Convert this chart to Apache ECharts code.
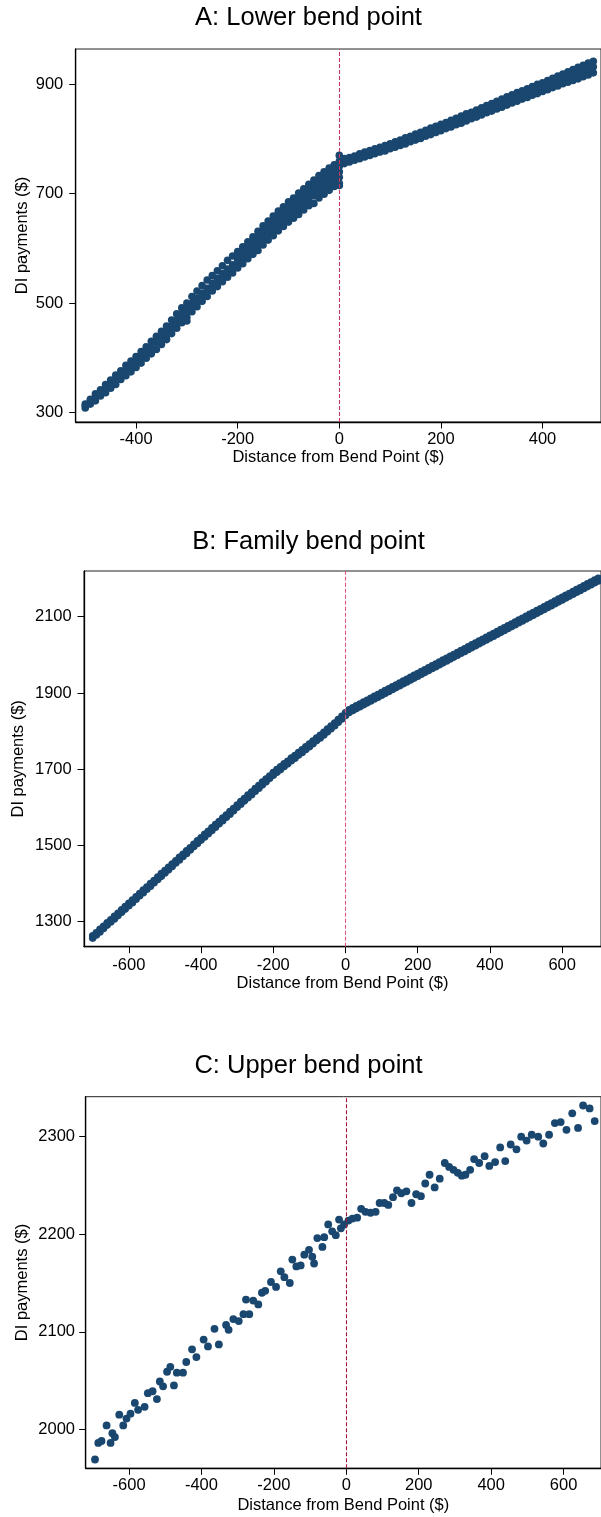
<!DOCTYPE html>
<html>
<head>
<meta charset="utf-8">
<script src="https://cdn.jsdelivr.net/npm/echarts@6/dist/echarts.min.js"></script>
<style>
  html, body { margin: 0; padding: 0; background: #fff; }
  #chart { width: 601px; height: 1517px; }
</style>
</head>
<body>
<div id="chart"></div>
<script>
// Panel titles and axis text
const panelTitles = ['A: Lower bend point', 'B: Family bend point', 'C: Upper bend point'];
const xAxisTitle = 'Distance from Bend Point ($)';
const yAxisTitle = 'DI payments ($)';

// Tick values
const xTicksA = [-400, -200, 0, 200, 400];
const yTicksA = [300, 500, 700, 900];
const xTicksB = [-600, -400, -200, 0, 200, 400, 600];
const yTicksB = [1300, 1500, 1700, 1900, 2100];
const xTicksC = [-600, -400, -200, 0, 200, 400, 600];
const yTicksC = [2000, 2100, 2200, 2300];

// Panel A: lower bend point. Each row: [distance, payment, payment, ...]
const lowerRows = [
  [-500, 308, 312, 315], [-490, 315, 320, 324], [-480, 321, 328, 334], [-470, 330, 336, 341],
  [-460, 336, 344, 351], [-450, 344, 352, 359], [-440, 351, 360, 368], [-430, 360, 368, 376],
  [-420, 367, 377, 386], [-410, 374, 384, 394], [-400, 382, 393, 402], [-390, 390, 401, 411],
  [-380, 399, 411, 420], [-370, 407, 419, 430], [-360, 415, 428, 439],
  [-350, 424, 437, 448, 431], [-340, 433, 447, 458, 440], [-330, 444, 458, 469, 451],
  [-320, 454, 468, 480, 461], [-310, 464, 479, 491, 472], [-300, 474, 489, 500, 482, 467],
  [-290, 484, 499, 512, 492], [-280, 493, 509, 522, 501], [-270, 503, 518, 532, 511],
  [-260, 512, 527, 542, 520], [-250, 522, 536, 550, 529], [-240, 530, 545, 559, 538],
  [-230, 539, 554, 568, 546], [-220, 547, 562, 578, 555], [-210, 555, 570, 586, 563],
  [-200, 564, 579, 594, 572, 587], [-190, 572, 588, 603, 581, 596], [-180, 581, 597, 612, 590, 605],
  [-170, 589, 606, 621, 598, 614], [-160, 596, 615, 631, 607, 623], [-150, 606, 624, 641, 616, 633],
  [-140, 615, 633, 650, 625, 642], [-130, 623, 641, 659, 633, 651], [-120, 632, 650, 668, 641, 660],
  [-110, 640, 658, 676, 649, 668], [-100, 648, 666, 685, 657, 676], [-90, 655, 674, 692, 665, 684],
  [-80, 662, 682, 701, 672, 692], [-70, 670, 690, 709, 680, 700], [-60, 678, 698, 717, 688, 708],
  [-50, 682, 706, 725, 696, 716], [-40, 692, 713, 733, 703, 723], [-30, 699, 720, 740, 710, 731],
  [-20, 706, 727, 747, 717, 738], [-10, 713, 734, 753, 724, 744], [0, 719, 740, 759, 730, 750, 770, 715],
  [10, 755, 759, 764], [20, 758, 762, 766], [30, 761, 765, 769], [40, 764, 768, 773],
  [50, 767, 771, 776], [60, 770, 774, 779], [70, 773, 777, 782], [80, 776, 780, 785],
  [90, 778, 783, 788], [100, 782, 786, 791], [110, 785, 789, 795], [120, 788, 793, 798],
  [130, 791, 796, 802], [140, 795, 800, 805], [150, 798, 803, 809], [160, 801, 807, 812],
  [170, 805, 810, 816], [180, 808, 814, 820], [190, 812, 817, 823], [200, 815, 821, 827],
  [210, 819, 825, 830], [220, 822, 828, 834], [230, 826, 832, 838], [240, 829, 836, 842],
  [250, 833, 839, 846], [260, 837, 843, 849], [270, 840, 847, 853], [280, 844, 851, 857],
  [290, 848, 855, 861], [300, 851, 858, 865], [310, 855, 862, 869], [320, 858, 866, 873],
  [330, 862, 870, 877], [340, 866, 873, 881], [350, 869, 877, 885], [360, 873, 880, 888],
  [370, 876, 884, 892], [380, 880, 888, 896], [390, 883, 891, 900], [400, 887, 895, 903],
  [410, 890, 899, 907], [420, 894, 902, 911], [430, 897, 906, 915], [440, 901, 910, 919],
  [450, 904, 914, 923], [460, 907, 917, 927], [470, 910, 921, 931], [480, 914, 925, 935],
  [490, 917, 929, 939], [500, 921, 932, 942]
];

// Panel B: family bend point. Each row: [distance, payment, payment]
const familyRows = [
  [-700, 1257, 1263], [-690, 1265, 1271], [-680, 1273, 1280], [-670, 1282, 1288], [-660, 1291, 1297],
  [-650, 1299, 1305], [-640, 1307, 1314], [-630, 1316, 1322], [-620, 1325, 1331], [-610, 1333, 1340],
  [-600, 1342, 1348], [-590, 1350, 1357], [-580, 1359, 1365], [-570, 1368, 1374], [-560, 1376, 1383],
  [-550, 1385, 1391], [-540, 1393, 1400], [-530, 1402, 1408], [-520, 1411, 1417], [-510, 1419, 1426],
  [-500, 1428, 1434], [-490, 1436, 1443], [-480, 1445, 1451], [-470, 1454, 1460], [-460, 1462, 1469],
  [-450, 1471, 1477], [-440, 1479, 1486], [-430, 1488, 1494], [-420, 1497, 1503], [-410, 1505, 1512],
  [-400, 1514, 1520], [-390, 1522, 1529], [-380, 1531, 1537], [-370, 1539, 1546], [-360, 1548, 1555],
  [-350, 1557, 1563], [-340, 1565, 1572], [-330, 1574, 1580], [-320, 1582, 1589], [-310, 1591, 1597],
  [-300, 1600, 1606], [-290, 1608, 1615], [-280, 1617, 1623], [-270, 1625, 1632], [-260, 1633, 1640],
  [-250, 1642, 1649], [-240, 1650, 1657], [-230, 1659, 1666], [-220, 1667, 1674], [-210, 1676, 1682],
  [-200, 1684, 1691], [-190, 1692, 1699], [-180, 1699, 1706], [-170, 1707, 1714], [-160, 1714, 1721],
  [-150, 1722, 1729], [-140, 1729, 1736], [-130, 1737, 1744], [-120, 1744, 1751], [-110, 1752, 1759],
  [-100, 1759, 1766], [-90, 1767, 1774], [-80, 1775, 1782], [-70, 1782, 1789], [-60, 1790, 1797],
  [-50, 1798, 1805], [-40, 1806, 1813], [-30, 1814, 1821], [-20, 1823, 1830], [-10, 1832, 1839],
  [0, 1841, 1848],
  [10, 1849, 1856], [20, 1854, 1861], [30, 1859, 1866], [40, 1864, 1871], [50, 1869, 1876],
  [60, 1874, 1881], [70, 1879, 1886], [80, 1884, 1891], [90, 1889, 1896], [100, 1894, 1901],
  [110, 1899, 1906], [120, 1904, 1911], [130, 1909, 1916], [140, 1914, 1921], [150, 1919, 1926],
  [160, 1924, 1931], [170, 1929, 1936], [180, 1934, 1941], [190, 1939, 1946], [200, 1944, 1951],
  [210, 1949, 1956], [220, 1954, 1961], [230, 1959, 1966], [240, 1964, 1971], [250, 1969, 1976],
  [260, 1974, 1981], [270, 1979, 1986], [280, 1984, 1991], [290, 1989, 1996], [300, 1994, 2001],
  [310, 1999, 2006], [320, 2004, 2011], [330, 2009, 2016], [340, 2014, 2021], [350, 2019, 2026],
  [360, 2024, 2031], [370, 2029, 2036], [380, 2034, 2041], [390, 2039, 2046], [400, 2044, 2051],
  [410, 2049, 2056], [420, 2054, 2061], [430, 2059, 2066], [440, 2064, 2071], [450, 2069, 2076],
  [460, 2074, 2081], [470, 2079, 2086], [480, 2084, 2091], [490, 2089, 2096], [500, 2094, 2101],
  [510, 2099, 2106], [520, 2104, 2111], [530, 2109, 2116], [540, 2114, 2121], [550, 2119, 2126],
  [560, 2124, 2131], [570, 2129, 2136], [580, 2134, 2141], [590, 2139, 2146], [600, 2144, 2151],
  [610, 2149, 2156], [620, 2154, 2161], [630, 2159, 2166], [640, 2164, 2171], [650, 2169, 2176],
  [660, 2174, 2181], [670, 2179, 2186], [680, 2184, 2191], [690, 2189, 2196], [700, 2194, 2201]
];

// Panel C: upper bend point. Each point: [distance, payment]
const upperPoints = [
  [-694, 1969], [-685, 1986], [-676, 1988], [-662, 2004], [-651, 1986], [-646, 1996], [-639, 1992],
  [-627, 2015], [-616, 2004], [-607, 2011], [-596, 2016], [-584, 2027], [-575, 2020], [-557, 2023],
  [-548, 2037], [-535, 2039], [-523, 2031], [-515, 2049], [-506, 2044], [-495, 2059], [-486, 2064],
  [-476, 2045], [-468, 2058], [-451, 2058], [-442, 2069], [-426, 2082], [-414, 2074], [-394, 2092],
  [-382, 2085], [-364, 2103], [-352, 2087], [-332, 2107], [-325, 2102], [-312, 2113], [-297, 2111],
  [-284, 2118], [-277, 2133], [-268, 2118], [-257, 2132], [-243, 2128], [-233, 2140], [-224, 2142],
  [-208, 2151], [-194, 2146], [-181, 2162], [-171, 2156], [-156, 2150], [-149, 2174], [-138, 2167],
  [-126, 2168], [-116, 2179], [-103, 2184], [-94, 2177], [-89, 2170], [-80, 2196], [-66, 2187],
  [-61, 2197], [-50, 2210], [-39, 2203], [-29, 2199], [-20, 2215], [-15, 2206], [-6, 2210],
  [6, 2214], [17, 2216], [30, 2217], [41, 2226], [53, 2223], [67, 2222], [81, 2223], [92, 2232],
  [105, 2232], [116, 2230], [129, 2238], [140, 2245], [152, 2242], [166, 2244], [180, 2232],
  [193, 2241], [206, 2239], [218, 2252], [230, 2261], [244, 2248], [258, 2257], [272, 2273],
  [284, 2269], [296, 2266], [308, 2263], [319, 2260], [329, 2261], [342, 2266], [353, 2277],
  [367, 2273], [382, 2280], [395, 2270], [411, 2274], [425, 2289], [439, 2275], [454, 2292],
  [470, 2287], [483, 2300], [498, 2296], [512, 2302], [530, 2300], [544, 2293], [560, 2302],
  [576, 2314], [592, 2315], [608, 2307], [624, 2324], [640, 2309], [654, 2332], [672, 2329],
  [686, 2316]
];

// Expand [x, y1, y2, ...] rows into [x, y] pairs
function rowsToPoints(rows) {
  const out = [];
  rows.forEach(function (r) {
    for (let i = 1; i < r.length; i++) out.push([r[0], r[i]]);
  });
  return out;
}

const FONT = "'Liberation Sans', Arial, sans-serif";
const MARKER = '#1a476f';
const plainNumber = function (v) { return String(v); };

// Per-panel layout and axis extents
const panels = [
  {
    title: panelTitles[0], titleY: 17.5,
    left: 75.7, top: 49, bottom: 422,
    xMin: -518.8, xMax: 515.1, yMin: 282.3, yMax: 964.6,
    xTicks: xTicksA, yTicks: yTicksA,
    data: rowsToPoints(lowerRows), size: 7.6,
    dash: '#c8375e', yLabelMargin: 12.4, xLabelMargin: 9, xNameGap: 27.3, yNameGap: 45
  },
  {
    title: panelTitles[1], titleY: 541.5,
    left: 84, top: 571, bottom: 946.7,
    xMin: -724.1, xMax: 707.6, yMin: 1234.4, yMax: 2219.9,
    xTicks: xTicksB, yTicks: yTicksB,
    data: rowsToPoints(familyRows), size: 7.6,
    dash: '#d9557a', yLabelMargin: 12.3, xLabelMargin: 10, xNameGap: 28, yNameGap: 56.6
  },
  {
    title: panelTitles[2], titleY: 1065.5,
    left: 85.7, top: 1096.7, bottom: 1468.3,
    xMin: -719.7, xMax: 703.4, yMin: 1960.0, yMax: 2341.0,
    xTicks: xTicksC, yTicks: yTicksC,
    data: upperPoints, size: 7.8,
    dash: '#a3163a', yLabelMargin: 10.7, xLabelMargin: 8.4, xNameGap: 28.5, yNameGap: 55
  }
];

const RIGHT_EDGE = 603;
const grids = [], xAxes = [], yAxes = [], series = [], graphics = [];

panels.forEach(function (p, i) {
  grids.push({
    left: p.left, top: p.top,
    width: RIGHT_EDGE - p.left, height: p.bottom - p.top,
    show: true, borderColor: '#222', borderWidth: 1, backgroundColor: 'transparent'
  });
  xAxes.push({
    gridIndex: i, type: 'value', min: p.xMin, max: p.xMax,
    axisLine: { show: true, onZero: false, lineStyle: { color: '#000', width: 1.3 } },
    axisTick: { show: true, length: 6.5, customValues: p.xTicks, lineStyle: { color: '#000', width: 1 } },
    axisLabel: { customValues: p.xTicks, formatter: plainNumber, color: '#000', fontSize: 16.5, fontFamily: FONT, margin: p.xLabelMargin },
    splitLine: { show: false },
    axisPointer: { show: false },
    name: xAxisTitle, nameLocation: 'middle', nameGap: p.xNameGap, nameMoveOverlap: false,
    nameTextStyle: { color: '#000', fontSize: 16.5, fontFamily: FONT }
  });
  yAxes.push({
    gridIndex: i, type: 'value', min: p.yMin, max: p.yMax,
    axisLine: { show: true, onZero: false, lineStyle: { color: '#000', width: 1.3 } },
    axisTick: { show: true, length: 6.5, customValues: p.yTicks, lineStyle: { color: '#000', width: 1 } },
    axisLabel: { customValues: p.yTicks, formatter: plainNumber, color: '#000', fontSize: 16.5, fontFamily: FONT, margin: p.yLabelMargin },
    splitLine: { show: false },
    axisPointer: { show: false },
    name: yAxisTitle, nameLocation: 'middle', nameGap: p.yNameGap, nameRotate: 90, nameMoveOverlap: false,
    nameTextStyle: { color: '#000', fontSize: 16.5, fontFamily: FONT }
  });
  // Dashed reference line at the bend point, under the markers
  series.push({
    type: 'line', xAxisIndex: i, yAxisIndex: i, data: [], z: 1, silent: true,
    color: p.dash, itemStyle: { color: p.dash }, lineStyle: { color: p.dash },
    markLine: {
      silent: true, symbol: ['none', 'none'], label: { show: false },
      itemStyle: { color: p.dash },
      lineStyle: { color: p.dash, width: 1.1, type: [4, 2], opacity: 1 },
      emphasis: { disabled: true },
      data: [{ xAxis: 0, lineStyle: { color: p.dash } }]
    }
  });
  series.push({
    type: 'scatter', xAxisIndex: i, yAxisIndex: i, data: p.data, z: 2,
    symbol: 'circle', symbolSize: p.size,
    itemStyle: { color: MARKER, opacity: 1 }
  });
  graphics.push({
    type: 'text', x: 308.5, y: p.titleY,
    style: { text: p.title, fill: '#000', fontSize: 25.5, fontFamily: FONT, align: 'center', verticalAlign: 'middle' }
  });
});

const chart = echarts.init(document.getElementById('chart'), null, { renderer: 'canvas' });
chart.setOption({
  animation: false,
  backgroundColor: '#fff',
  grid: grids,
  xAxis: xAxes,
  yAxis: yAxes,
  series: series,
  graphic: graphics
});
</script>
</body>
</html>
